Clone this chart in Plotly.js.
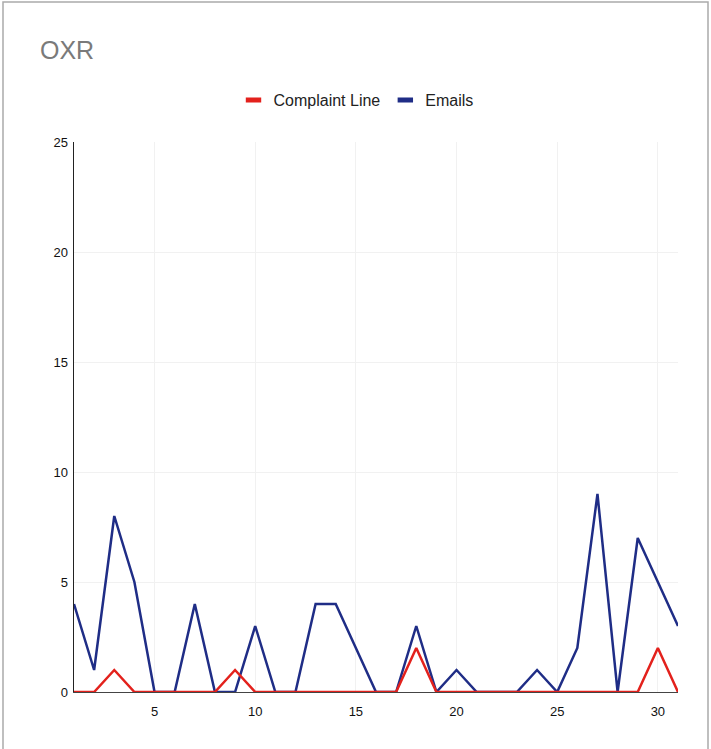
<!DOCTYPE html>
<html><head><meta charset="utf-8">
<script src="https://cdn.plot.ly/plotly-3.0.1.min.js"></script>
<style>html,body{margin:0;padding:0;background:#fff}#chart{width:711px;height:749px}</style>
</head><body><div id="chart"></div>
<script>
const days = [1,2,3,4,5,6,7,8,9,10,11,12,13,14,15,16,17,18,19,20,21,22,23,24,25,26,27,28,29,30,31];
const complaintLine = [0,0,1,0,0,0,0,0,1,0,0,0,0,0,0,0,0,2,0,0,0,0,0,0,0,0,0,0,0,2,0];
const emails = [4,1,8,5,0,0,4,0,0,3,0,0,4,4,2,0,0,3,0,1,0,0,0,1,0,2,9,0,7,5,3];
const seriesNames = ['Complaint Line', 'Emails'];
const seriesColors = ['#e3211c', '#1f2d86'];
const xTicks = [5,10,15,20,25,30];
const yTicks = [0,5,10,15,20,25];

const traces = [
  {x: days, y: emails, name: seriesNames[1], type: 'scatter', mode: 'lines', showlegend: false,
   line: {color: seriesColors[1], width: 2.5}},
  {x: days, y: complaintLine, name: seriesNames[0], type: 'scatter', mode: 'lines', showlegend: false,
   line: {color: seriesColors[0], width: 2.5}}
].concat(seriesNames.map((n, i) => ({
  x: [null], y: [null], name: n, type: 'scatter', mode: 'markers',
  marker: {symbol: 'line-ew', size: 11, color: seriesColors[i], line: {color: seriesColors[i], width: 6}}
})));
const W = 711, H = 749, L = 74, R = 33, T = 142, B = 57;
const pw = W - L - R, ph = H - T - B;
const layout = {
  width: W, height: H,
  margin: {l: L, r: R, t: T, b: B},
  paper_bgcolor: '#fff', plot_bgcolor: '#fff',
  font: {family: 'Liberation Sans, Arial, sans-serif', color: '#222', size: 12},
  title: {text: 'OXR', x: 40/W, xanchor: 'left', y: 1-50/H, yanchor: 'middle',
          font: {size: 25, color: '#7a7a7a', family: 'Liberation Sans, Arial, sans-serif'}},
  showlegend: true,
  legend: {orientation: 'h', x: 0.5 - 20/pw, xanchor: 'center', y: 1 + 42/ph, yanchor: 'middle',
           font: {size: 16, color: '#222'}, itemwidth: 30, itemsizing: 'trace'},
  xaxis: {range: [1, 31], tickvals: xTicks, ticktext: xTicks.map(String),
          showgrid: true, gridcolor: '#f1f1f1', zeroline: false,
          showline: true, linecolor: '#444', linewidth: 1, ticks: '', ticklabelstandoff: 7,
          tickfont: {size: 13, color: '#111'}},
  yaxis: {range: [0, 25], tickvals: yTicks, ticktext: yTicks.map(String),
          showgrid: true, gridcolor: '#f1f1f1', zeroline: false,
          showline: true, linecolor: '#222', linewidth: 1.5, ticks: '', ticklabelstandoff: 2,
          tickfont: {size: 13, color: '#111'}},
  shapes: [{type: 'rect', xref: 'paper', yref: 'paper',
            x0: -71/pw, x1: 1 + 30/pw, y0: -60/ph, y1: 1 + 140/ph,
            line: {color: '#aaa', width: 1.5}}]
};
Plotly.newPlot('chart', traces, layout, {displayModeBar: false, staticPlot: true});
</script></body></html>
